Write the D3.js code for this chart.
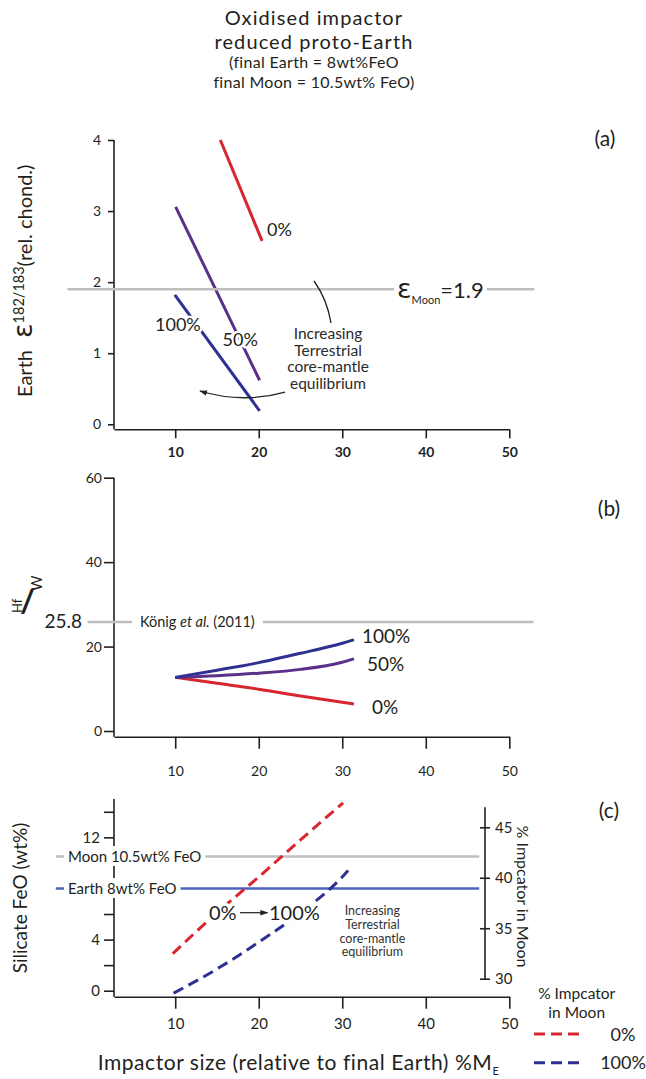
<!DOCTYPE html>
<html>
<head>
<meta charset="utf-8">
<script src="https://cdn.jsdelivr.net/npm/d3@7"></script>
<style>
  body { margin: 0; background: #fff; }
  svg { font-family: Lato, "Open Sans", sans-serif; }
</style>
</head>
<body>
<svg id="chart" width="646" height="1079"></svg>
<script>
// impactor size (% of final Earth mass), shared x ticks
const xTicks = [10, 20, 30, 40, 50];

// (a) Earth epsilon 182/183 W
const aSize0 = [15.4, 20.4],   aEps0 = [4.0, 2.58];
const aSize50 = [10.05, 20.1], aEps50 = [3.06, 0.62];
const aSize100 = [9.95, 20.1], aEps100 = [1.82, 0.19];
const aTicksY = [0, 1, 2, 3, 4];
const epsMoon = 1.9;

// (b) Hf/W
const bSize = [10, 15, 20, 25, 30, 31.4];
const bHfW0 = [12.7, 11.3, 9.9, 8.3, 6.8, 6.4];
const bHfW50 = [12.7, 13.1, 13.7, 14.6, 16.3, 17.1];
const bHfW100 = [12.7, 14.4, 16.2, 18.4, 20.8, 21.6];
const bTicksY = [0, 20, 40, 60];
const hfwKonig = 25.8;

// (c) silicate FeO
const cSize0 = [9.7, 15, 20, 25, 30.1],       cFeO0 = [2.9, 6.1, 8.9, 11.8, 14.7];
const cSize100 = [9.8, 15, 20, 25, 30, 30.7], cFeO100 = [-0.2, 1.7, 3.8, 6.1, 8.9, 9.4];
const cTicksY = [0, 2, 4, 6, 8, 10, 12, 14];
const cLabelsY = [0, 4, 12];
const cTicksRight = [30, 35, 40, 45];
const feoMoon = 10.5, feoEarth = 8;

const ink = "#231f20";
const red = "#d7262e", purple = "#5c3088", navy = "#2e3192";
const grey = "#bfbfbf", earthBlue = "#4a64be";

const svg = d3.select("#chart");

const defs = svg.append("defs");
defs.append("marker").attr("id", "head")
  .attr("viewBox", "0 0 10 10").attr("refX", 9).attr("refY", 5)
  .attr("markerWidth", 8).attr("markerHeight", 8).attr("markerUnits", "userSpaceOnUse")
  .attr("orient", "auto")
  .append("path").attr("d", "M0,1.5L10,5L0,8.5Z").attr("fill", ink);

const x = d3.scaleLinear().domain([2.67, 50]).range([114, 509.3]);

function styleAxis(g, fs, weight) {
  g.attr("font-family", null).attr("font-size", null);
  g.selectAll("line, path").attr("stroke", ink).attr("stroke-width", 1.6);
  g.selectAll("text").attr("fill", ink)
    .style("font-size", fs + "px").style("font-weight", weight || 400);
}

function xAxis(axisY, tickLen, pad, fs, weight) {
  const g = svg.append("g").attr("transform", `translate(0,${axisY})`)
    .call(d3.axisBottom(x).tickValues(xTicks).tickSize(tickLen).tickSizeOuter(0).tickPadding(pad));
  styleAxis(g, fs, weight);
}

function yAxis(scale, ticks, labelled, top, bottom, tickLen, pad, fs) {
  const g = svg.append("g").attr("transform", "translate(114,0)")
    .call(d3.axisLeft(scale).tickValues(ticks).tickSize(tickLen).tickPadding(pad)
      .tickFormat(d => labelled.includes(d) ? d : ""));
  g.select(".domain").remove();
  g.append("line").attr("y1", top).attr("y2", bottom);
  styleAxis(g, fs);
  return g;
}

function withBg(t, padX, padY) {
  const n = t.node(), b = n.getBBox();
  d3.select(n.parentNode).insert("rect", () => n)
    .attr("x", b.x - padX).attr("y", b.y - padY)
    .attr("width", b.width + 2 * padX).attr("height", b.height + 2 * padY)
    .attr("fill", "#fff");
}

function label(txt, px, py, fs, opts) {
  opts = opts || {};
  const t = svg.append("text").attr("x", px).attr("y", py)
    .attr("fill", opts.fill || ink).style("font-size", fs + "px")
    .attr("text-anchor", opts.anchor || "start").text(txt);
  if (opts.spacing) t.style("letter-spacing", opts.spacing + "px");
  if (opts.halo) t.attr("stroke", "#fff").attr("stroke-width", opts.halo)
    .attr("paint-order", "stroke").attr("stroke-linejoin", "round");
  return t;
}

const zip = (xs, ys) => xs.map((v, i) => [v, ys[i]]);

// ---------- title ----------
[["Oxidised impactor", 20, 24.6, 1.1], ["reduced proto-Earth", 20, 48.7, 1.1],
 ["(final Earth = 8wt%FeO", 16, 68.3, 0.3], ["final Moon = 10.5wt% FeO)", 16, 88.3, 0.3]]
  .forEach(([s, fs, y, ls]) => label(s, 314, y, fs, { anchor: "middle", spacing: ls }));

// ---------- panel (a) ----------
const ya = d3.scaleLinear().domain([0, 4]).range([424.3, 140]);
xAxis(429.3, 9, 9, 14, 700);
yAxis(ya, aTicksY, aTicksY, 140, 429.3, 6, 7, 14);

const lineA = d3.line().x(d => x(d[0])).y(d => ya(d[1]));
[[aSize0, aEps0, red], [aSize50, aEps50, purple], [aSize100, aEps100, navy]].forEach(([xs, ys, c]) => {
  svg.append("path").attr("d", lineA(zip(xs, ys)))
    .attr("fill", "none").attr("stroke", c).attr("stroke-width", 3);
});

svg.append("line").attr("x1", x(-2.9)).attr("x2", x(53))
  .attr("y1", ya(epsMoon)).attr("y2", ya(epsMoon))
  .attr("stroke", grey).attr("stroke-width", 2.5);
const epsLbl = svg.append("text").attr("x", 397).attr("y", 298.3).attr("fill", ink);
epsLbl.append("tspan").style("font-size", "27px").style("font-family", "'DejaVu Sans'").text("ε");
epsLbl.append("tspan").style("font-size", "11px").attr("dy", 6).text("Moon");
epsLbl.append("tspan").style("font-size", "22px").attr("dy", -6).text("=1.9");
withBg(epsLbl, 3, 0);

label("0%", 267, 235.5, 18, { halo: 5 });
label("100%", 155, 330.5, 18, { halo: 5 });
label("50%", 222.5, 346, 18, { halo: 5 });

["Increasing", "Terrestrial", "core-mantle", "equilibrium"].forEach((s, i) =>
  label(s, 328, 339 + i * 16.7, 15.5, { anchor: "middle", fill: "#2a2a2a" }));
svg.append("path").attr("d", "M314,281Q327,299 331,323")
  .attr("fill", "none").attr("stroke", ink).attr("stroke-width", 1.3);
svg.append("path").attr("d", "M285,392Q243,404 200,391")
  .attr("fill", "none").attr("stroke", ink).attr("stroke-width", 1.3)
  .attr("marker-end", "url(#head)");

const aY = svg.append("text").attr("transform", "translate(32,397) rotate(-90)").attr("fill", ink);
aY.append("tspan").style("font-size", "20px").text("Earth");
aY.append("tspan").attr("dx", 12).style("font-size", "27px").style("font-family", "'DejaVu Sans'").text("ε");
aY.append("tspan").attr("dy", -8).style("font-size", "14.5px").text("182/183");
aY.append("tspan").attr("dy", 8).style("font-size", "20px").text("(rel. chond.)");

label("(a)", 605, 145.5, 21, { anchor: "middle" });

// ---------- panel (b) ----------
const yb = d3.scaleLinear().domain([0, 60]).range([731, 477.7]);
xAxis(736.7, 12, 17, 14);
yAxis(yb, bTicksY, bTicksY, 477.7, 736.7, 10, 2, 14);

const lineB = d3.line().x(d => x(d[0])).y(d => yb(d[1])).curve(d3.curveMonotoneX);
[[bHfW0, red], [bHfW50, purple], [bHfW100, navy]].forEach(([ys, c]) => {
  svg.append("path").attr("d", lineB(zip(bSize, ys)))
    .attr("fill", "none").attr("stroke", c).attr("stroke-width", 3);
});

svg.append("line").attr("x1", x(-0.5)).attr("x2", x(52.9))
  .attr("y1", yb(hfwKonig)).attr("y2", yb(hfwKonig))
  .attr("stroke", grey).attr("stroke-width", 2.5);
const konig = svg.append("text").attr("x", 140).attr("y", 627).attr("fill", ink).style("font-size", "14.5px");
konig.append("tspan").text("König ");
konig.append("tspan").style("font-style", "italic").text("et al.");
konig.append("tspan").text(" (2011)");
withBg(konig, 8, 0);
label("25.8", 82, 627.5, 19, { anchor: "end" });

label("100%", 362, 643, 19);
label("50%", 367, 671, 19);
label("0%", 372, 714, 19);

svg.append("text").attr("transform", "translate(22,613) rotate(-90)")
  .attr("fill", ink).style("font-size", "13px").text("Hf");
label("/", 20, 612, 33).style("font-weight", 700);
svg.append("text").attr("transform", "translate(42,591) rotate(-90)")
  .attr("fill", ink).style("font-size", "15px").text("W");

label("(b)", 609, 515.5, 21, { anchor: "middle" });

// ---------- panel (c) ----------
const yc = d3.scaleLinear().domain([0, 15]).range([990.7, 799]);
const yr = d3.scaleLinear().domain([30, 45]).range([978.7, 827.3]);
xAxis(996.7, 12, 10, 15);
yAxis(yc, cTicksY, cLabelsY, 799, 996.7, 10, 4, 15);

const gr = svg.append("g").attr("transform", "translate(485,0)")
  .call(d3.axisRight(yr).tickValues(cTicksRight).tickSize(5).tickPadding(5));
gr.select(".domain").remove();
gr.selectAll(".tick line").attr("x1", -5);
gr.append("line").attr("y1", 807.3).attr("y2", 979.3);
styleAxis(gr, 15);

[[feoMoon, grey, "Moon 10.5wt% FeO"], [feoEarth, earthBlue, "Earth 8wt% FeO"]].forEach(([v, c, s]) => {
  svg.append("line").attr("x1", x(-4.3)).attr("x2", x(46.4))
    .attr("y1", yc(v)).attr("y2", yc(v)).attr("stroke", c).attr("stroke-width", 2.5);
  const t = label(s, 68, yc(v) + 5.5, 15);
  withBg(t, 4, 1);
});

const lineC = d3.line().x(d => x(d[0])).y(d => yc(d[1])).curve(d3.curveMonotoneX);
[[cSize0, cFeO0, red], [cSize100, cFeO100, navy]].forEach(([xs, ys, c]) => {
  svg.append("path").attr("d", lineC(zip(xs, ys)))
    .attr("fill", "none").attr("stroke", c).attr("stroke-width", 3)
    .attr("stroke-dasharray", "11,6");
});

label("0%", 209, 919.5, 20, { halo: 7 });
label("100%", 269, 919.5, 20, { halo: 7 });
svg.append("line").attr("x1", 240).attr("x2", 267.5).attr("y1", 912.7).attr("y2", 912.7)
  .attr("stroke", ink).attr("stroke-width", 1.2).attr("marker-end", "url(#head)");

["Increasing", "Terrestrial", "core-mantle", "equilibrium"].forEach((s, i) =>
  label(s, 372.4, 915 + i * 13.8, 12.5, { anchor: "middle", fill: "#333" }));

svg.append("text").attr("transform", "translate(27,898) rotate(-90)")
  .attr("text-anchor", "middle").attr("fill", ink).style("font-size", "19px")
  .text("Silicate FeO (wt%)");
svg.append("text").attr("transform", "translate(517,896.5) rotate(90)")
  .attr("text-anchor", "middle").attr("fill", ink).style("font-size", "16px")
  .text("% Impcator in Moon");

label("(c)", 609, 817.5, 21, { anchor: "middle" });

// x title
const xt = svg.append("text").attr("x", 298.5).attr("y", 1070)
  .attr("text-anchor", "middle").attr("fill", ink).style("font-size", "21px")
  .style("letter-spacing", "0.55px");
xt.append("tspan").text("Impactor size (relative to final Earth) %M");
xt.append("tspan").attr("dy", 5).style("font-size", "11px").text("E");

// legend
label("% Impcator", 576.7, 999, 15.5, { anchor: "middle" });
label("in Moon", 576.7, 1017.5, 15.5, { anchor: "middle" });
[["0%", red, 1034], ["100%", navy, 1062.7]].forEach(([s, c, ly]) => {
  svg.append("line").attr("x1", 534).attr("x2", 580).attr("y1", ly).attr("y2", ly)
    .attr("stroke", c).attr("stroke-width", 3).attr("stroke-dasharray", "11,6");
  label(s, 623, ly + 6.5, 18, { anchor: "middle" });
});
</script>
</body>
</html>
